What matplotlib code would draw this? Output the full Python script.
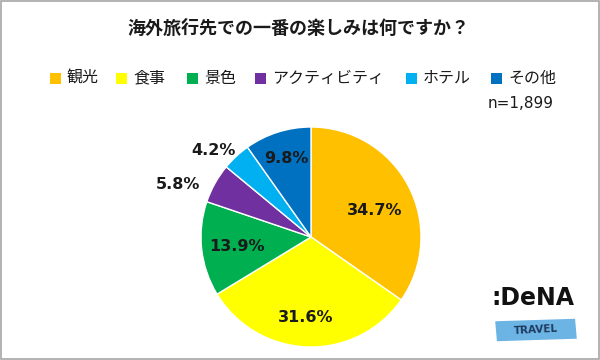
import matplotlib
matplotlib.use("Agg")
import matplotlib.pyplot as plt
from matplotlib.patches import Rectangle
import matplotlib.transforms as mtransforms

plt.rcParams['font.family'] = ['Noto Sans CJK JP', 'DejaVu Sans']

title = "海外旅行先での一番の楽しみは何ですか？"
categories = ["観光", "食事", "景色", "アクティビティ", "ホテル", "その他"]
values = [34.7, 31.6, 13.9, 5.8, 4.2, 9.8]
colors = ["#FFC000", "#FFFF00", "#00B050", "#7030A0", "#00B0F0", "#0070C0"]
n_text = "n=1,899"

# layout only: label offsets (pie radius units), legend square x positions (px)
label_pos = [(0.58, 0.24), (-0.045, -0.73), (-0.67, -0.09), (-1.21, 0.48), (-0.89, 0.79), (-0.22, 0.71)]
legend_x = [50, 116, 187, 255, 406, 491]

W, H = 600, 360
fig = plt.figure(figsize=(6, 3.6), dpi=100)
fig.patch.set_facecolor("white")
fig.add_artist(Rectangle((0.002, 0.003), 0.996, 0.994, transform=fig.transFigure,
                         fill=False, edgecolor="#A6A6A6", linewidth=1.2))

ax = fig.add_axes([201/W, 13/H, 220/W, 220/H])
ax.pie(values, colors=colors, startangle=90, counterclock=False,
       wedgeprops=dict(edgecolor="white", linewidth=1.0))
ax.set_xlim(-1, 1)
ax.set_ylim(-1, 1)
ax.set_aspect("equal")
ax.axis("off")
for v, (x, y) in zip(values, label_pos):
    ax.text(x, y, f"{v:.1f}%", ha="center", va="center", fontsize=11.5,
            fontweight="bold", color="#1a1a1a", clip_on=False,
            family=["DejaVu Sans"])

fig.text(298/W, 1 - 28/H, title, ha="center", va="center", fontsize=13,
         fontweight="bold", color="#1a1a1a")

# legend
for x0, c, lab in zip(legend_x, colors, categories):
    fig.add_artist(Rectangle((x0/W, 1 - 84/H), 11/W, 11/H, transform=fig.transFigure,
                             facecolor=c, edgecolor="none"))
    fig.text((x0 + 17)/W, 1 - 78/H, lab, ha="left", va="center", fontsize=11.5,
             color="#1a1a1a")

fig.text(554/W, 1 - 104/H, n_text, ha="right", va="center", fontsize=11,
         color="#1a1a1a", family=["DejaVu Sans"])

# logo
fig.text(533/W, 1 - 298/H, ":DeNA", ha="center", va="center", fontsize=17,
         fontweight="bold", color="#111111", family=["DejaVu Sans"])
rot = mtransforms.Affine2D().rotate_deg_around(536/W, 1 - 330/H, 3) + fig.transFigure
fig.add_artist(Rectangle((496/W, 1 - 340/H), 80/W, 20/H, transform=rot,
                         facecolor="#6CB4E4", edgecolor="none"))
fig.text(536/W, 1 - 330/H, "TRAVEL", ha="center", va="center", fontsize=7.5,
         fontweight="bold", color="#1F3A5F", family=["DejaVu Sans"], rotation=3)

fig.savefig("out.png", dpi=100)
